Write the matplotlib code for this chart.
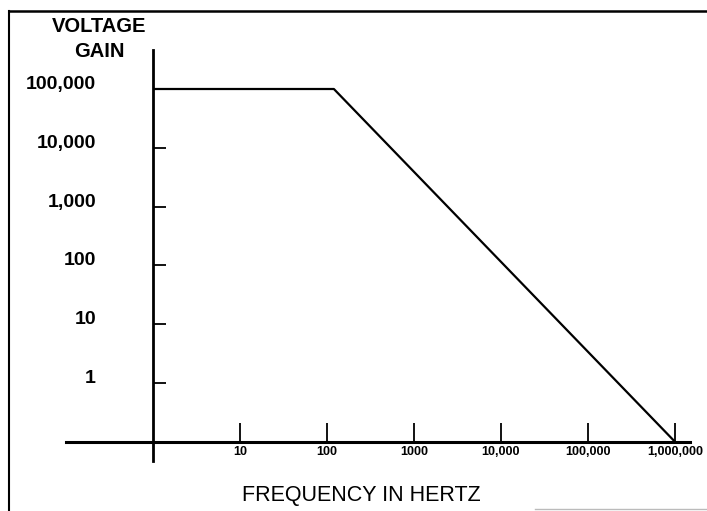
import matplotlib
matplotlib.use('Agg')
import matplotlib.pyplot as plt
from matplotlib.lines import Line2D
from matplotlib.transforms import ScaledTranslation

# ---- data ----
freq_hz = [1, 120, 1_000_000]
voltage_gain = [100_000, 100_000, 0.1]
x_ticks = [10, 100, 1000, 10_000, 100_000, 1_000_000]
x_tick_labels = ['10', '100', '1000', '10,000', '100,000', '1,000,000']
y_ticks = [1, 10, 100, 1000, 10_000, 100_000]
y_tick_labels = ['1', '10', '100', '1,000', '10,000', '100,000']

REG = ['Liberation Sans', 'DejaVu Sans']

W, H = 707, 511
fig = plt.figure(figsize=(W / 100, H / 100), dpi=100)
ax = fig.add_axes([0, 0, 1, 1])
ax.set_xscale('log')
ax.set_yscale('log')

# axis scaling: 1 Hz at px 153, 87 px per decade; gain 1 at px 383, 58.8 px per decade
x0, xdec = 153, 87.0
y1, ydec = 383, 58.8
ax.set_xlim(10 ** ((0 - x0) / xdec), 10 ** ((W - x0) / xdec))
ax.set_ylim(10 ** ((y1 - H) / ydec), 10 ** (y1 / ydec))

ax.patch.set_alpha(0)
for s in ['top', 'right']:
    ax.spines[s].set_visible(False)
ax.spines['bottom'].set_position(('data', 0.1))
ax.spines['left'].set_position(('data', 1))
ax.spines['bottom'].set_bounds(0.1, 1.5e6)
ax.spines['left'].set_bounds(0.048, 4.6e5)
ax.spines['bottom'].set_linewidth(2.2)
ax.spines['left'].set_linewidth(2.0)

ax.minorticks_off()
ax.set_xticks(x_ticks)
ax.set_xticklabels(x_tick_labels, family=REG, fontsize=9, fontweight='bold')
ax.set_yticks(y_ticks)
ax.set_yticklabels(y_tick_labels, family=REG, fontsize=14, fontweight='bold')
ax.tick_params(axis='x', direction='in', length=14, width=1.3, pad=3, color='black')
ax.tick_params(axis='y', direction='in', length=9.5, width=1.3, pad=41, color='black')
for lab in ax.get_yticklabels():
    lab.set_transform(lab.get_transform() + ScaledTranslation(0, 0.065, fig.dpi_scale_trans))

ax.plot(freq_hz, voltage_gain, color='black', lw=1.6, solid_capstyle='butt')

# axis titles
fig.text(99 / W, 1 - 17 / H, 'VOLTAGE\nGAIN', ha='center', va='top', multialignment='center',
         family=REG, fontsize=14.5, fontweight='bold', linespacing=1.4)
fig.text(361 / W, 1 - 495 / H, 'FREQUENCY IN HERTZ', ha='center', va='center',
         family=REG, fontsize=15.5)

# scanned frame
fig.add_artist(Line2D([9 / W, 1], [1 - 11 / H, 1 - 11 / H], transform=fig.transFigure,
                      color='black', lw=1.8))
fig.add_artist(Line2D([9 / W, 9 / W], [1 - 11 / H, 0], transform=fig.transFigure,
                      color='black', lw=1.5))
fig.add_artist(Line2D([535 / W, 1], [1 - 509 / H, 1 - 509 / H], transform=fig.transFigure,
                      color='#bbbbbb', lw=1.0))

fig.savefig('out.png', dpi=100)
